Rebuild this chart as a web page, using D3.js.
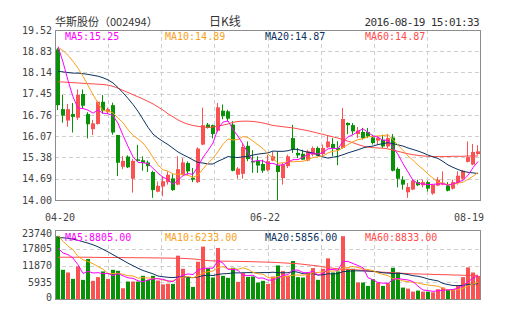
<!DOCTYPE html>
<html><head><meta charset="utf-8">
<script src="https://cdn.jsdelivr.net/npm/d3@7"></script>
<style>body{margin:0;background:#fff}svg{display:block}</style>
</head><body><svg id="c" width="505" height="330"></svg>
<script>
// ---------------- data ----------------
const stockName = "华斯股份（002494）";
const chartTitle = "日K线";
const timeStamp = "2016-08-19 15:01:33";
const dateLabels = ["04-20", "06-22", "08-19"];

const open  = [18.89,16.95,16.58,16.79,16.67,17.44,16.79,16.30,16.47,17.19,16.85,17.08,16.11,15.08,15.41,14.69,15.32,15.29,15.22,14.91,14.27,14.44,14.58,14.70,14.50,14.82,15.20,14.72,14.58,15.80,16.45,16.43,16.25,16.90,16.88,16.45,14.82,14.85,15.76,15.27,15.28,15.17,14.97,15.28,15.13,14.71,15.10,16.01,15.53,15.50,15.28,15.47,15.69,15.49,15.71,15.82,15.69,15.69,16.50,16.43,16.14,16.21,16.21,16.03,15.93,15.96,15.74,16.03,15.01,14.66,14.25,14.34,14.58,14.48,14.58,14.21,14.47,14.50,14.47,14.37,14.55,14.69,15.24,15.15,15.49];
const high  = [18.93,17.41,17.12,17.15,17.59,17.59,16.85,16.60,17.22,17.41,17.00,17.16,16.11,15.43,15.45,15.33,15.79,15.42,15.28,14.95,14.60,14.77,14.93,14.85,15.42,15.36,15.25,15.04,15.71,17.00,16.50,16.45,17.15,17.10,16.93,16.56,15.07,15.85,15.90,15.62,15.42,15.31,15.47,15.58,15.58,15.20,15.47,16.44,15.69,15.63,15.63,15.74,15.74,15.80,16.10,16.01,15.91,16.99,16.52,16.50,16.37,16.34,16.34,16.12,16.07,16.12,16.14,16.14,15.06,14.77,14.55,14.66,14.66,14.66,14.63,14.50,14.74,14.93,14.58,14.66,14.93,14.98,15.90,15.82,15.78];
const low   = [16.92,16.51,16.38,16.19,16.60,16.98,16.00,16.11,16.45,16.80,16.80,16.12,14.78,15.00,15.04,14.24,15.25,14.95,14.91,14.07,14.25,14.12,14.50,14.30,14.48,14.80,14.82,14.58,14.55,15.78,16.32,16.00,16.20,16.62,16.55,14.93,14.69,14.69,15.26,14.88,14.88,14.88,14.93,15.26,14.00,14.50,15.04,15.53,15.36,15.31,15.26,15.42,15.42,15.42,15.69,15.42,15.13,15.67,16.14,16.12,16.01,15.96,16.01,15.80,15.80,15.69,15.69,14.93,14.41,14.34,14.07,14.32,14.45,14.41,14.28,14.17,14.45,14.48,14.28,14.34,14.50,14.66,15.22,15.13,15.47];
const close = [17.08,16.74,16.95,16.70,17.41,17.06,16.46,16.49,17.19,16.90,16.95,16.19,15.21,15.27,15.06,15.27,15.27,15.20,15.10,14.32,14.46,14.61,14.82,14.32,15.00,15.22,14.93,14.66,15.67,16.43,16.34,16.14,17.01,16.72,16.64,14.95,15.02,15.72,15.33,15.22,15.12,14.95,15.26,15.42,14.91,15.15,15.42,15.63,15.45,15.31,15.58,15.69,15.44,15.69,15.90,15.67,15.63,16.63,16.43,16.23,16.25,16.01,16.07,15.85,16.01,15.74,16.01,14.95,14.69,14.50,14.42,14.63,14.48,14.58,14.37,14.50,14.66,14.56,14.30,14.58,14.79,14.95,15.39,15.56,15.58];

const ma5  = [18.98,18.48,17.88,17.35,16.98,16.97,16.92,16.82,16.92,16.82,16.80,16.74,16.49,16.10,15.74,15.40,15.22,15.21,15.18,15.03,14.87,14.74,14.66,14.51,14.64,14.79,14.86,14.83,15.10,15.38,15.61,15.85,16.32,16.53,16.57,16.29,16.07,15.81,15.53,15.25,15.28,15.27,15.18,15.19,15.13,15.14,15.23,15.31,15.31,15.39,15.48,15.53,15.49,15.54,15.66,15.68,15.67,15.90,16.05,16.12,16.23,16.31,16.20,16.08,16.04,15.94,15.94,15.71,15.48,15.18,14.91,14.64,14.54,14.52,14.50,14.51,14.52,14.53,14.48,14.52,14.58,14.64,14.80,15.05,15.25];
const ma10 = [18.96,18.85,18.70,18.50,18.28,18.02,17.72,17.42,17.15,16.90,16.89,16.83,16.66,16.51,16.28,16.10,15.98,15.85,15.64,15.38,15.14,14.98,14.94,14.84,14.84,14.83,14.80,14.74,14.80,15.01,15.20,15.35,15.57,15.81,15.98,15.95,15.96,16.06,16.03,15.91,15.79,15.67,15.49,15.36,15.19,15.21,15.25,15.24,15.25,15.26,15.31,15.38,15.40,15.43,15.53,15.58,15.60,15.70,15.80,15.89,15.96,15.99,16.05,16.07,16.08,16.09,16.12,15.96,15.78,15.61,15.43,15.29,15.13,15.00,14.84,14.71,14.58,14.54,14.50,14.51,14.55,14.58,14.67,14.77,14.89];
const ma20 = [18.18,18.16,18.14,18.12,18.12,18.10,18.08,18.05,18.02,17.97,17.90,17.80,17.65,17.48,17.30,17.10,16.88,16.62,16.36,16.14,16.01,15.90,15.80,15.68,15.56,15.47,15.39,15.30,15.22,15.20,15.17,15.17,15.26,15.33,15.41,15.39,15.38,15.40,15.42,15.46,15.49,15.51,15.53,15.59,15.58,15.58,15.60,15.65,15.64,15.59,15.55,15.53,15.45,15.40,15.36,15.39,15.42,15.47,15.53,15.58,15.63,15.69,15.73,15.75,15.80,15.83,15.86,15.83,15.79,15.75,15.69,15.64,15.59,15.53,15.46,15.40,15.35,15.25,15.14,15.06,14.99,14.93,14.90,14.88,14.86];
const ma60 = [17.84,17.83,17.82,17.81,17.80,17.79,17.78,17.77,17.76,17.75,17.73,17.69,17.63,17.56,17.49,17.42,17.35,17.28,17.20,17.12,17.02,16.92,16.80,16.70,16.60,16.52,16.46,16.42,16.39,16.37,16.36,16.37,16.40,16.43,16.47,16.52,16.55,16.56,16.56,16.55,16.53,16.50,16.46,16.42,16.40,16.38,16.36,16.34,16.31,16.28,16.25,16.21,16.17,16.13,16.09,16.05,16.01,15.96,15.91,15.86,15.80,15.75,15.72,15.70,15.69,15.68,15.66,15.62,15.58,15.54,15.50,15.47,15.45,15.43,15.42,15.41,15.41,15.41,15.41,15.42,15.42,15.42,15.43,15.43,15.43];

const volume = [22250,10350,9400,7140,11540,6780,14160,6430,7740,9760,7140,10350,10000,3810,6190,6190,6190,8210,6780,8210,6550,5200,5400,5360,15350,10710,7620,4280,13210,18560,10950,7620,18090,8210,7500,11070,6070,9160,7850,7970,5830,6430,5360,7970,11900,9880,8210,13450,7740,7620,9400,10950,6780,10710,14400,9400,9760,22250,10710,10710,5830,5830,4640,7020,5830,4640,5590,11070,9400,4050,3690,2620,2980,2620,2620,2380,3450,4050,3210,3450,4760,7740,11190,9400,8210];
const vma5  = [18090,16300,15710,14520,12138,9044,9806,9211,9330,8973,9044,8282,8996,8211,7497,7307,6474,6117,6712,7116,7188,6990,6428,6142,7570,8403,8886,8663,10234,10877,10924,10924,13685,12685,10472,10496,10186,8401,8330,8425,7378,7449,6688,6712,7497,8306,8663,10282,10234,9377,9282,9829,8497,9092,10448,10448,10210,13304,13304,12566,11852,11067,7545,6807,5831,5593,5545,6831,7307,6950,6759,6164,4546,3189,2981,2719,2885,3099,3218,3385,3861,4718,6145,7383,8335];
const vma10 = [22500,20500,18700,17500,15100,13900,13300,12500,11500,10555,9044,9044,9104,8770,8235,8175,7378,7557,7461,7307,7247,6732,6272,6427,7343,7795,7938,7546,8188,9223,9664,9905,11174,11460,10674,10710,10555,11043,10508,9449,8937,8818,7545,7521,7961,7842,8056,8485,8473,8437,8794,9246,9389,9663,9913,9865,10020,10901,11198,11507,11150,10639,10425,10056,9199,8723,8306,7188,7057,6390,6176,5855,5688,5248,4965,4739,4525,3823,3204,3183,3290,3802,4622,5301,5860];
const vma20 = [21700,21700,21500,21200,20800,20300,19800,19200,18500,17600,16700,15700,14700,13700,12700,11800,10900,10100,9500,8931,8146,7888,7688,7599,7789,7985,7658,7551,7825,8265,8455,8319,8723,8943,9009,9253,9247,9294,9348,9336,9300,9362,9359,9490,9318,9276,9306,9764,9490,8943,8866,9032,8467,8592,8937,8854,9038,9693,9835,9972,9972,9943,9907,9859,9556,9294,9163,9044,9127,8949,8663,8247,8056,7652,7082,6731,6416,5505,5130,4787,4733,4828,5155,5274,5412];
const vma60 = [14800,14800,14800,14800,14800,14800,14800,14750,14750,14700,14700,14700,14700,14650,14650,14650,14600,14600,14600,14550,14550,14500,14500,14450,14450,14400,14300,14200,14000,13800,13600,13500,13450,13400,13400,13350,13300,13300,13250,13200,13150,13100,13050,13000,12900,12800,12700,12600,12500,12300,12100,11900,11700,11400,11100,10900,10700,10600,10500,10400,10300,10100,9900,9700,9600,9500,9400,9300,9200,9100,9000,8900,8900,8800,8800,8700,8700,8600,8600,8500,8500,8400,8400,8400,8400];

const priceTicks = [19.52,18.83,18.14,17.45,16.76,16.07,15.38,14.69,14.00];
const volTicks = [23740,17805,11870,5935,0];
const maNames = ["MA5","MA10","MA20","MA60"];
const priceLegendValues = ["15.25","14.89","14.87","14.87"];
const volLegendValues = ["8805.00","6233.00","5856.00","8833.00"];

// ---------------- style ----------------
const RED = "#fa5252", GREEN = "#079207";
const maColors = ["#ff00ff","#f9a11b","#0b3360","#ff4b4b"];
const MONO = "'DejaVu Sans Mono', monospace";
const CJK = "'Noto Sans CJK SC', sans-serif";

const svg = d3.select("#c");
const L = 55, R = 480, PT = 30, PB = 200, VT = 231, VB = 299;
const n = close.length;

const x = d3.scaleBand().domain(d3.range(n)).range([L, R]).paddingInner(0.2).paddingOuter(0.1).round(true);
const bw = x.bandwidth();
const yP = d3.scaleLinear().domain([14, 19.52]).range([PB, PT]);
const yV = d3.scaleLinear().domain([0, 23740]).range([VB, VT + 1]);
const gx = d3.scaleLinear().domain([0, 8]).range([L, R]);

// ---------------- title row ----------------
svg.append("text").attr("x", L).attr("y", 26).attr("font-family", CJK).attr("font-size", 11).attr("fill", "#333").text(stockName);
svg.append("text").attr("x", 225).attr("y", 26).attr("text-anchor", "middle").attr("font-family", CJK).attr("font-size", 12).attr("fill", "#333").text(chartTitle);
svg.append("text").attr("x", 479).attr("y", 26).attr("text-anchor", "end").attr("font-family", MONO).attr("font-size", 11).attr("letter-spacing", -0.6).attr("fill", "#333").text(timeStamp);

function panel(yScale, ticks, top, bottom, fmt) {
  const g = svg.append("g");
  // horizontal grid
  g.append("g").selectAll("line").data(ticks.slice(1, -1)).join("line")
    .attr("x1", L).attr("x2", R)
    .attr("y1", d => Math.round(yScale(d)) + 0.5).attr("y2", d => Math.round(yScale(d)) + 0.5)
    .attr("stroke", "#cfcfcf").attr("stroke-dasharray", "4,3");
  // vertical grid
  g.append("g").selectAll("line").data(d3.range(1, 8)).join("line")
    .attr("x1", d => Math.round(gx(d)) + 0.5).attr("x2", d => Math.round(gx(d)) + 0.5)
    .attr("y1", top).attr("y2", bottom)
    .attr("stroke", "#cfcfcf").attr("stroke-dasharray", "4,3");
  // axis labels
  const ax = d3.axisLeft(yScale).tickValues(ticks).tickFormat(fmt).tickSize(0).tickPadding(3);
  const a = svg.append("g").attr("transform", `translate(${L},0)`).call(ax);
  a.select(".domain").remove();
  a.selectAll("text").attr("font-family", MONO).attr("font-size", 10).attr("fill", "#444");
  return a;
}

panel(yP, priceTicks, PT, PB, d3.format(".2f"));
const va = panel(yV, volTicks, VT, VB + 1, d => String(d));
va.selectAll("text").filter(d => d === 23740).attr("dy", "0.45em");
va.selectAll("text").filter(d => d === 0).attr("dy", "0.15em");

// ---------------- candles ----------------
const cg = svg.append("g");
const idx = d3.range(n);
const col = i => close[i] >= open[i] ? RED : GREEN;
cg.selectAll("line.w").data(idx).join("line").attr("class", "w")
  .attr("x1", i => x(i) + 1.5).attr("x2", i => x(i) + 1.5)
  .attr("y1", i => yP(high[i])).attr("y2", i => yP(low[i]))
  .attr("stroke", col).attr("stroke-width", 1);
cg.selectAll("rect").data(idx).join("rect")
  .attr("x", i => x(i)).attr("width", bw)
  .attr("y", i => yP(Math.max(open[i], close[i])))
  .attr("height", i => Math.max(1, Math.abs(yP(open[i]) - yP(close[i]))))
  .attr("fill", col);

// ---------------- volume bars ----------------
svg.append("g").selectAll("rect").data(idx).join("rect")
  .attr("x", i => x(i)).attr("width", bw)
  .attr("y", i => yV(volume[i])).attr("height", i => VB - yV(volume[i]) + 0.5)
  .attr("fill", col);

// ---------------- MA lines ----------------
function maLine(arr, yScale, color) {
  const line = d3.line().x((d, i) => x(i) + bw / 2).y(d => yScale(d));
  svg.append("path").datum(arr).attr("d", line).attr("fill", "none")
    .attr("stroke", color).attr("stroke-width", 1);
}
[ma60, ma20, ma10, ma5].forEach((a, k) => maLine(a, yP, maColors[3 - k]));
[vma60, vma20, vma10, vma5].forEach((a, k) => maLine(a, yV, maColors[3 - k]));

// ---------------- frames ----------------
svg.append("rect").attr("x", L + 0.5).attr("y", PT + 0.5).attr("width", R - L).attr("height", PB - PT)
  .attr("fill", "none").attr("stroke", "#8c8c8c");
svg.append("rect").attr("x", L + 0.5).attr("y", VT - 0.5).attr("width", R - L).attr("height", VB - VT + 1)
  .attr("fill", "none").attr("stroke", "#8c8c8c");

// ---------------- legends ----------------
const lx = d3.scaleLinear().domain([0, 4]).range([L + 10, L + 410]);
svg.append("g").selectAll("text").data(maNames).join("text")
  .attr("x", (d, i) => lx(i)).attr("y", 39.5)
  .attr("font-family", MONO).attr("font-size", 10).attr("fill", (d, i) => maColors[i])
  .text((d, i) => d + ":" + priceLegendValues[i]);
svg.append("g").selectAll("text").data(maNames).join("text")
  .attr("x", (d, i) => lx(i)).attr("y", 240.5)
  .attr("font-family", MONO).attr("font-size", 10).attr("fill", (d, i) => maColors[i])
  .text((d, i) => d + ":" + volLegendValues[i]);

// ---------------- date labels ----------------
const dPos = [{x: L - 10, a: "start"}, {x: (L + R) / 2 - 2.5, a: "middle"}, {x: R + 4, a: "end"}];
svg.append("g").selectAll("text").data(dateLabels).join("text")
  .attr("x", (d, i) => dPos[i].x).attr("y", 220.5).attr("text-anchor", (d, i) => dPos[i].a)
  .attr("font-family", MONO).attr("font-size", 10).attr("fill", "#444").text(d => d);
</script></body></html>
